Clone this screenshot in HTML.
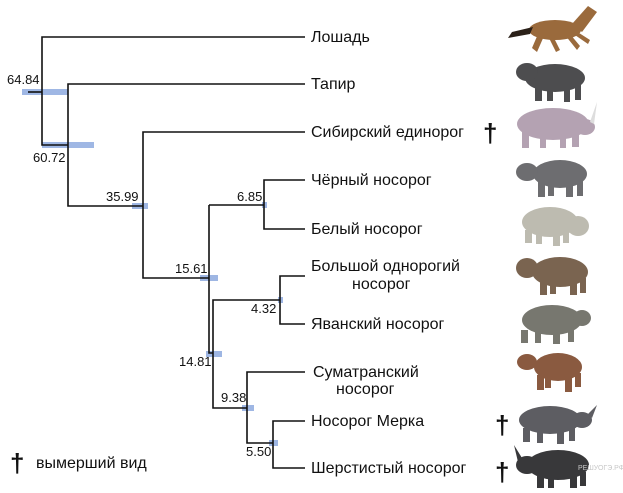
<!DOCTYPE html>
<html><head><meta charset="utf-8"><style>
html,body{margin:0;padding:0;background:#fff;}
svg{display:block;}
text{font-family:"Liberation Sans",sans-serif;fill:#111;}
</style></head><body>
<svg width="623" height="493" viewBox="0 0 623 493" xmlns="http://www.w3.org/2000/svg">
<g fill="#8eaadf" opacity="0.85">
<rect x="22" y="89" width="46" height="6"/>
<rect x="42" y="142" width="52" height="6"/>
<rect x="132" y="203" width="16" height="6"/>
<rect x="262" y="202" width="5" height="6"/>
<rect x="200" y="275" width="18" height="6"/>
<rect x="278" y="297" width="5" height="6"/>
<rect x="206" y="351" width="16" height="6"/>
<rect x="242" y="405" width="12" height="6"/>
<rect x="269" y="440" width="9" height="6"/>
</g>
<g stroke="#111" stroke-width="1.6" fill="none">
<path d="M305 37H42V145H68"/>
<path d="M28 92H42"/>
<path d="M305 84H68V206H143"/>
<path d="M305 132H143V278H209"/>
<path d="M305 180H264V229H305"/>
<path d="M209 205H264"/>
<path d="M209 205V353H213"/>
<path d="M305 276H280V324H305"/>
<path d="M280 300H213V408H247"/>
<path d="M305 372H247V443H273"/>
<path d="M305 421H273V468H305"/>
</g>
<g font-size="13">
<text x="7" y="84">64.84</text>
<text x="33" y="162">60.72</text>
<text x="106" y="201">35.99</text>
<text x="237" y="201">6.85</text>
<text x="175" y="273">15.61</text>
<text x="251" y="313">4.32</text>
<text x="179" y="366">14.81</text>
<text x="221" y="402">9.38</text>
<text x="246" y="456">5.50</text>
</g>
<g font-size="16">
<text x="311" y="42">Лошадь</text>
<text x="311" y="89">Тапир</text>
<text x="311" y="137">Сибирский единорог</text>
<text x="311" y="185">Чёрный носорог</text>
<text x="311" y="234">Белый носорог</text>
<text x="311" y="271">Большой однорогий</text>
<text x="352" y="289">носорог</text>
<text x="313" y="377">Суматранский</text>
<text x="336" y="394">носорог</text>
<text x="311" y="329">Яванский носорог</text>
<text x="311" y="426">Носорог Мерка</text>
<text x="311" y="473">Шерстистый носорог</text>
<text x="36" y="468">вымерший вид</text>
</g>
<g font-size="26" font-weight="bold">
<text x="483" y="142">†</text>
<text x="495" y="434">†</text>
<text x="495" y="481">†</text>
<text x="10" y="472">†</text>
</g>
<g>
<g fill="#9a6a3c"><ellipse cx="555" cy="30" rx="26" ry="10"/><path d="M572 24 L588 6 L597 12 L582 32Z"/><path d="M533 27 L512 32 L508 38 L530 34Z" fill="#2a2018"/>
<path d="M538 34 L532 48 L537 52 L544 36Z M548 36 L556 52 L560 50 L553 36Z M565 35 L577 50 L580 46 L570 34Z M572 33 L588 44 L590 40 L576 31Z"/></g>
<g fill="#4d4d4f"><ellipse cx="555" cy="78" rx="30" ry="14"/><ellipse cx="527" cy="72" rx="11" ry="9"/>
<rect x="535" y="85" width="7" height="16"/><rect x="547" y="87" width="6" height="14"/><rect x="564" y="86" width="6" height="16"/><rect x="575" y="85" width="6" height="15"/></g>
<g fill="#b4a2b2"><ellipse cx="553" cy="124" rx="36" ry="16"/><ellipse cx="585" cy="127" rx="10" ry="8"/><path d="M590 122 L597 102 L594 124Z" fill="#ddd"/>
<rect x="522" y="132" width="7" height="16"/><rect x="540" y="134" width="6" height="14"/><rect x="560" y="134" width="6" height="14"/><rect x="572" y="132" width="7" height="15"/></g>
<g fill="#6d6d70"><ellipse cx="560" cy="174" rx="27" ry="14"/><ellipse cx="527" cy="172" rx="11" ry="9"/>
<rect x="538" y="182" width="7" height="15"/><rect x="548" y="183" width="6" height="13"/><rect x="566" y="182" width="7" height="15"/><rect x="577" y="180" width="6" height="16"/></g>
<g fill="#bdbbb0"><ellipse cx="550" cy="222" rx="28" ry="15"/><ellipse cx="578" cy="226" rx="11" ry="10"/>
<rect x="525" y="230" width="7" height="13"/><rect x="536" y="232" width="6" height="12"/><rect x="553" y="232" width="7" height="14"/><rect x="563" y="230" width="6" height="13"/></g>
<g fill="#7a6450"><ellipse cx="560" cy="272" rx="28" ry="15"/><ellipse cx="527" cy="268" rx="11" ry="10"/>
<rect x="540" y="280" width="7" height="15"/><rect x="550" y="282" width="6" height="12"/><rect x="570" y="280" width="7" height="15"/><rect x="580" y="278" width="6" height="15"/></g>
<g fill="#77776f"><ellipse cx="552" cy="320" rx="30" ry="15"/><ellipse cx="582" cy="318" rx="9" ry="8"/>
<rect x="521" y="330" width="7" height="13"/><rect x="535" y="330" width="6" height="13"/><rect x="553" y="330" width="7" height="14"/><rect x="568" y="329" width="6" height="13"/></g>
<g fill="#8a5a40"><ellipse cx="558" cy="367" rx="24" ry="14"/><ellipse cx="527" cy="362" rx="10" ry="8"/>
<rect x="537" y="375" width="7" height="15"/><rect x="545" y="376" width="6" height="12"/><rect x="565" y="375" width="7" height="17"/><rect x="575" y="373" width="6" height="14"/></g>
<g fill="#5d5d62"><ellipse cx="550" cy="420" rx="31" ry="14"/><ellipse cx="582" cy="420" rx="10" ry="8"/><path d="M588 414 L597 405 L592 418Z"/>
<rect x="523" y="428" width="7" height="14"/><rect x="537" y="430" width="6" height="13"/><rect x="557" y="430" width="7" height="14"/><rect x="569" y="428" width="6" height="13"/></g>
<g fill="#38383a"><ellipse cx="558" cy="465" rx="31" ry="15"/><ellipse cx="527" cy="465" rx="11" ry="9"/><path d="M518 462 L514 445 L522 458Z"/>
<rect x="537" y="474" width="7" height="14"/><rect x="548" y="476" width="6" height="12"/><rect x="570" y="474" width="7" height="14"/><rect x="580" y="472" width="6" height="14"/></g>
<text x="578" y="470" font-size="7" style="fill:#c8c8c8">РЕШУОГЭ.РФ</text>
</g>
</svg>
</body></html>
